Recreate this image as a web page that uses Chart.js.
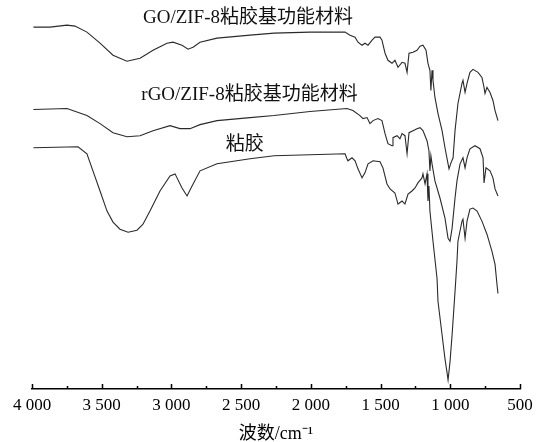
<!DOCTYPE html>
<html>
<head>
<meta charset="utf-8">
<script src="https://cdn.jsdelivr.net/npm/chart.js@4/dist/chart.umd.min.js"></script>
<style>
  html, body { margin: 0; padding: 0; background: #ffffff; }
  #wrap { width: 548px; height: 442px; position: relative; }
</style>
</head>
<body>
<div id="wrap"><canvas id="c" width="548" height="442"></canvas></div>
<script>
// FTIR spectra: wavenumber (cm^-1) and transmittance (arbitrary units, curves offset)

// GO/ZIF-8 viscose-based functional material
const goWave = [3990, 3871, 3749, 3692, 3606, 3512, 3419, 3319, 3225, 3132, 3032, 2989, 2924, 2881, 2845, 2795, 2673, 2436, 2264, 2006, 1755, 1719, 1683, 1662, 1633, 1612, 1590, 1561, 1540, 1504, 1490, 1468, 1447, 1418, 1397, 1375, 1346, 1325, 1310, 1296, 1267, 1239, 1217, 1196, 1174, 1160, 1146, 1139, 1131, 1124, 1110, 1088, 1059, 1038, 1016, 1009, 995, 980, 966, 945, 916, 909, 894, 880, 859, 837, 801, 773, 758, 751, 737, 715, 694, 679, 658];
const goT    = [360, 360, 362, 361, 355, 344, 332, 326, 329, 337, 344, 345, 342, 338, 340, 345, 349, 352, 354, 355, 355, 352, 350, 345, 342, 344, 342, 347, 350, 350, 347, 334, 327, 324, 327, 320, 325, 324, 315, 334, 335, 337, 341, 342, 337, 324, 317, 297, 317, 307, 290, 274, 257, 240, 224, 219, 225, 230, 257, 284, 304, 307, 295, 304, 315, 318, 315, 310, 300, 294, 300, 295, 287, 277, 267];

// rGO/ZIF-8 viscose-based functional material
const rgoWave = [3990, 3749, 3606, 3512, 3419, 3319, 3225, 3132, 3010, 2939, 2867, 2795, 2673, 2436, 2264, 2006, 1741, 1698, 1648, 1626, 1597, 1576, 1554, 1519, 1490, 1468, 1447, 1418, 1411, 1382, 1361, 1346, 1325, 1310, 1296, 1267, 1239, 1217, 1196, 1167, 1153, 1146, 1139, 1131, 1110, 1074, 1038, 1016, 1002, 987, 966, 952, 930, 909, 894, 880, 859, 823, 787, 765, 758, 744, 715, 694, 679, 658];
const rgoT    = [278, 279, 272, 264, 255, 251, 252, 257, 262, 259, 259, 263, 267, 270, 272, 276, 279, 277, 272, 269, 270, 264, 267, 269, 267, 254, 244, 242, 250, 252, 249, 254, 252, 234, 255, 257, 259, 260, 257, 247, 237, 217, 232, 224, 207, 190, 170, 150, 147, 160, 190, 207, 224, 230, 220, 230, 239, 242, 239, 230, 205, 220, 217, 210, 199, 192];

// Viscose
const vcWave = [3990, 3670, 3606, 3563, 3512, 3462, 3419, 3369, 3311, 3247, 3204, 3154, 3082, 3010, 2974, 2924, 2888, 2852, 2795, 2673, 2436, 2264, 2006, 1755, 1741, 1734, 1705, 1683, 1662, 1633, 1612, 1590, 1554, 1504, 1483, 1454, 1432, 1397, 1375, 1346, 1325, 1303, 1275, 1253, 1232, 1203, 1196, 1181, 1167, 1160, 1153, 1146, 1124, 1095, 1088, 1059, 1038, 1024, 1016, 1002, 987, 966, 952, 945, 916, 909, 894, 880, 859, 837, 808, 773, 737, 701, 679, 665, 658];
const vcT    = [240, 241, 234, 217, 197, 177, 166, 159, 156, 158, 164, 177, 197, 212, 214, 200, 192, 202, 217, 224, 229, 232, 233, 234, 229, 227, 230, 227, 219, 210, 215, 224, 227, 226, 220, 204, 199, 195, 184, 187, 184, 194, 197, 200, 205, 210, 214, 204, 214, 187, 202, 177, 147, 110, 87, 54, 30, 17, 9, 27, 54, 97, 127, 147, 167, 169, 150, 167, 179, 180, 177, 167, 154, 137, 124, 104, 95];

// Curve captions: text, anchor wavenumber, anchor transmittance
const captionText = ['GO/ZIF-8粘胶基功能材料', 'rGO/ZIF-8粘胶基功能材料', '粘胶'];
const captionWave = [2451, 2440, 2475];
const captionT    = [369, 292, 243];

// Axis ticks
const majorTicks = [4000, 3500, 3000, 2500, 2000, 1500, 1000, 500];
const minorTicks = [3750, 3250, 2750, 2250, 1750, 1250, 750];

const toPoints = (xs, ys) => xs.map((x, i) => ({ x: x, y: ys[i] }));

const lineStyle = {
  borderColor: '#2a2a2a',
  borderWidth: 1.1,
  pointRadius: 0,
  tension: 0,
  fill: false
};

const serif = '"Liberation Serif", "Times New Roman", "Noto Sans CJK SC", serif';

// Inward tick marks on the wavenumber axis
const axisTicks = {
  id: 'axisTicks',
  afterDraw(chart) {
    const ctx = chart.ctx;
    const xs = chart.scales.x;
    const y0 = xs.top;
    ctx.save();
    ctx.strokeStyle = '#000';
    ctx.lineWidth = 1.5;
    ctx.beginPath();
    majorTicks.forEach(v => {
      const px = Math.round(xs.getPixelForValue(v)) + 0.5;
      ctx.moveTo(px, y0);
      ctx.lineTo(px, y0 - 5);
    });
    minorTicks.forEach(v => {
      const px = Math.round(xs.getPixelForValue(v)) + 0.5;
      ctx.moveTo(px, y0);
      ctx.lineTo(px, y0 - 3);
    });
    ctx.stroke();
    ctx.restore();
  }
};

// Captions placed in data coordinates
const captions = {
  id: 'captions',
  afterDatasetsDraw(chart) {
    const ctx = chart.ctx;
    const xs = chart.scales.x, ys = chart.scales.y;
    ctx.save();
    ctx.fillStyle = '#111';
    ctx.font = '19px ' + serif;
    ctx.textAlign = 'center';
    ctx.textBaseline = 'middle';
    captionText.forEach((t, i) => {
      ctx.fillText(t, xs.getPixelForValue(captionWave[i]), ys.getPixelForValue(captionT[i]));
    });
    ctx.restore();
  }
};

new Chart(document.getElementById('c'), {
  type: 'line',
  data: {
    datasets: [
      Object.assign({ label: 'GO/ZIF-8粘胶基功能材料', data: toPoints(goWave, goT) }, lineStyle),
      Object.assign({ label: 'rGO/ZIF-8粘胶基功能材料', data: toPoints(rgoWave, rgoT) }, lineStyle),
      Object.assign({ label: '粘胶', data: toPoints(vcWave, vcT) }, lineStyle)
    ]
  },
  options: {
    responsive: false,
    animation: false,
    devicePixelRatio: 1,
    layout: { padding: { left: 32, right: 28, top: 7, bottom: -3 } },
    plugins: {
      legend: { display: false },
      tooltip: { enabled: false }
    },
    scales: {
      x: {
        type: 'linear',
        reverse: true,
        min: 500,
        max: 4000,
        grid: { display: false, drawTicks: false },
        border: { display: true, color: '#000', width: 1.5 },
        ticks: {
          stepSize: 500,
          padding: 6,
          color: '#000',
          font: { family: serif, size: 17 },
          maxRotation: 0,
          callback: v => {
            const s = String(v);
            return s.length > 3 ? s.slice(0, s.length - 3) + ' ' + s.slice(-3) : s;
          }
        },
        title: {
          display: true,
          text: '波数/cm⁻¹',
          color: '#000',
          font: { family: serif, size: 18 },
          padding: { top: 2, bottom: 0 }
        }
      },
      y: {
        display: false,
        min: 0,
        max: 380
      }
    }
  },
  plugins: [axisTicks, captions]
});
</script>
</body>
</html>
